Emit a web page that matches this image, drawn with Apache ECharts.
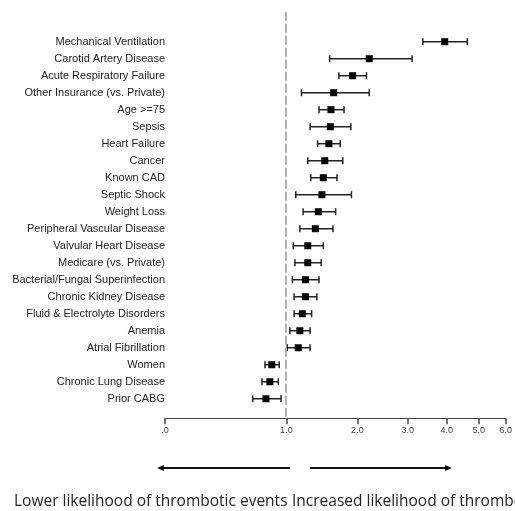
<!DOCTYPE html>
<html><head><meta charset="utf-8">
<script src="https://cdn.jsdelivr.net/npm/echarts@6/dist/echarts.min.js"></script>
<style>html,body{margin:0;padding:0;background:#fff}#c{width:515px;height:511px}</style>
</head><body><div id="c"></div>
<script>
const categories = ["Mechanical Ventilation","Carotid Artery Disease","Acute Respiratory Failure","Other Insurance (vs. Private)","Age >=75","Sepsis","Heart Failure","Cancer","Known CAD","Septic Shock","Weight Loss","Peripheral Vascular Disease","Valvular Heart Disease","Medicare (vs. Private)","Bacterial/Fungal Superinfection","Chronic Kidney Disease","Fluid & Electrolyte Disorders","Anemia","Atrial Fibrillation","Women","Chronic Lung Disease","Prior CABG"];
const oddsRatio = [3.94,2.21,1.92,1.62,1.58,1.57,1.55,1.49,1.47,1.45,1.40,1.36,1.26,1.26,1.23,1.23,1.19,1.16,1.14,0.84,0.82,0.78];
const ciLow  = [3.36,1.56,1.70,1.18,1.41,1.29,1.39,1.26,1.30,1.11,1.20,1.16,1.08,1.10,1.07,1.09,1.09,1.04,1.01,0.77,0.74,0.65];
const ciHigh = [4.62,3.10,2.16,2.21,1.78,1.89,1.72,1.76,1.67,1.90,1.65,1.61,1.47,1.44,1.41,1.38,1.31,1.29,1.29,0.92,0.91,0.94];
const xTicks = [0,1,2,3,4,5,6];
const refValue = 1;

// axis scale: log(1 + x)
const sc = v => Math.log1p(v);
const inv = u => Math.expm1(u);

const data = categories.map((c,i)=>[sc(ciLow[i]), sc(ciHigh[i]), sc(oddsRatio[i]), i]);

const chart = echarts.init(document.getElementById('c'));
chart.setOption({
  animation:false,
  grid:{left:165, right:4, top:11.7, bottom:92.7, containLabel:false},
  xAxis:{type:'value', min:sc(0), max:sc(6),
    axisLine:{show:true, onZero:false, lineStyle:{color:'#444', width:1.2}},
    axisTick:{show:true, length:6, customValues:xTicks.map(sc), lineStyle:{color:'#444', width:1.5}},
    axisLabel:{customValues:xTicks.map(sc), fontFamily:'Liberation Sans', fontSize:9, color:'#444', margin:8,
      formatter:v=>{const r=Math.round(inv(v)*10)/10; return r===0?'.0':r.toFixed(1);}},
    splitLine:{show:false}},
  yAxis:{type:'value', inverse:true, min:-1.765, max:22.15,
    axisLine:{show:false}, axisTick:{show:false}, splitLine:{show:false},
    axisLabel:{customValues:categories.map((c,i)=>i), margin:0, fontFamily:'Liberation Sans', fontSize:11, color:'#222',
      formatter:v=>categories[Math.round(v)]}},
  series:[{
    type:'custom',
    data:data,
    encode:{x:[0,1,2], y:3},
    renderItem:(params, api)=>{
      const lo = api.coord([api.value(0), api.value(3)]);
      const hi = api.coord([api.value(1), api.value(3)]);
      const ce = api.coord([api.value(2), api.value(3)]);
      const y = ce[1], ch = 3.5, s = 3.5;
      const st = {stroke:'#222', lineWidth:1.5};
      return {type:'group', children:[
        {type:'line', shape:{x1:lo[0], y1:y, x2:hi[0], y2:y}, style:st},
        {type:'line', shape:{x1:lo[0], y1:y-ch, x2:lo[0], y2:y+ch}, style:st},
        {type:'line', shape:{x1:hi[0], y1:y-ch, x2:hi[0], y2:y+ch}, style:st},
        {type:'rect', shape:{x:ce[0]-s, y:y-s, width:2*s, height:2*s}, style:{fill:'#000'}}
      ]};
    },
    markLine:{silent:true, symbol:'none', label:{show:false},
      lineStyle:{color:'#999', type:[9,3], width:1.5},
      data:[{xAxis:sc(refValue)}]}
  }],
  graphic:[
    {type:'line', shape:{x1:162, y1:468, x2:290, y2:468}, style:{stroke:'#111', lineWidth:2}},
    {type:'polygon', shape:{points:[[157,468],[164,465],[164,471]]}, style:{fill:'#111'}},
    {type:'line', shape:{x1:310, y1:468, x2:447, y2:468}, style:{stroke:'#111', lineWidth:2}},
    {type:'polygon', shape:{points:[[452,468],[445,465],[445,471]]}, style:{fill:'#111'}},
    {type:'text', left:14, top:494, style:{text:'Lower likelihood of thrombotic events', font:'15.5px "Open Sans"', fill:'#222'}},
    {type:'text', left:292, top:494, style:{text:'Increased likelihood of thrombotic events', font:'15.5px "Open Sans"', fill:'#222'}}
  ]
});
</script></body></html>
